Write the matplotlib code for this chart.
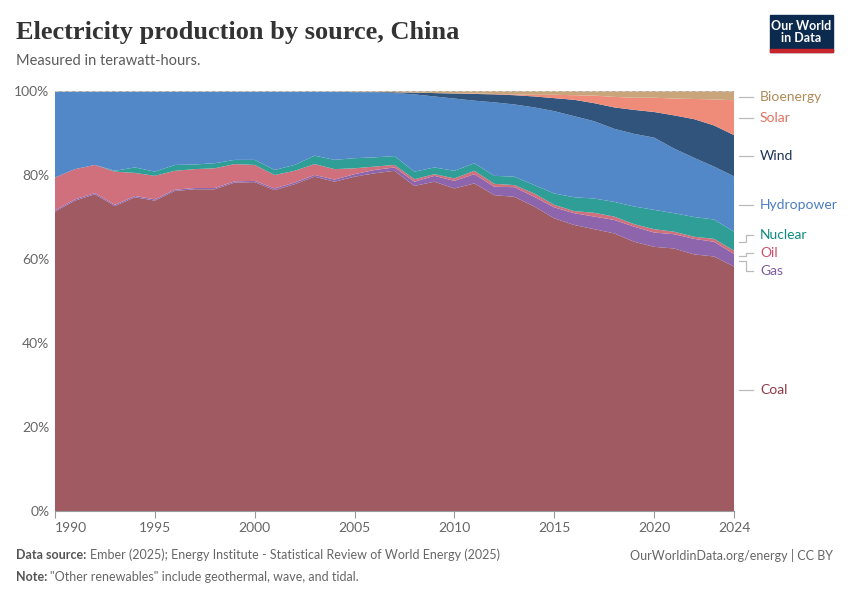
import matplotlib
matplotlib.use("Agg")
import matplotlib.pyplot as plt
import numpy as np
from matplotlib.patches import Rectangle

# ======= DATA (share of electricity, %) ======= #

years = list(range(1990, 2025))

coal = [71.3, 73.9, 75.4, 72.6, 74.7, 73.9, 76.2, 76.6, 76.6, 78.2,
        78.3, 76.4, 77.8, 79.6, 78.4, 79.6, 80.4, 81.0, 77.4, 78.4,
        76.8, 78.0, 75.2, 74.8, 72.5, 69.7, 68.1, 67.1, 66.1, 64.1,
        62.9, 62.5, 61.1, 60.6, 58.2]
gas = [0.3, 0.3, 0.3, 0.3, 0.3, 0.3, 0.3, 0.3, 0.3, 0.3,
       0.3, 0.4, 0.4, 0.4, 0.5, 0.6, 0.8, 0.8, 1.0, 1.4,
       1.8, 2.2, 2.0, 2.3, 2.3, 2.6, 2.8, 3.0, 3.2, 3.6,
       3.4, 3.4, 3.7, 3.5, 3.0]
oil = [7.8, 7.2, 6.7, 7.9, 5.5, 5.6, 4.5, 4.5, 4.7, 4.1,
       3.8, 3.2, 2.8, 2.6, 2.5, 1.4, 0.8, 0.6, 0.6, 0.4,
       0.6, 0.8, 0.7, 0.5, 0.8, 0.6, 0.5, 0.9, 0.8, 0.6,
       0.8, 0.6, 0.5, 0.7, 0.8]
nuclear = [0.0, 0.0, 0.0, 0.2, 1.3, 1.0, 1.4, 1.1, 1.2, 1.0,
           1.2, 1.2, 1.4, 2.0, 2.2, 2.4, 2.2, 2.1, 1.8, 1.6,
           1.8, 1.8, 1.9, 2.0, 2.0, 2.7, 3.3, 3.4, 3.5, 4.2,
           4.6, 4.4, 4.7, 4.6, 4.5]
hydro = [20.5, 18.5, 17.5, 18.9, 18.1, 19.1, 17.5, 17.4, 17.1, 16.3,
         16.3, 18.7, 17.5, 15.3, 16.3, 15.7, 15.5, 15.0, 18.4, 16.9,
         17.2, 14.9, 17.5, 17.2, 18.5, 19.6, 19.3, 18.4, 17.4, 17.3,
         17.2, 15.4, 14.1, 12.6, 13.2]
wind = [0.0, 0.0, 0.0, 0.0, 0.0, 0.0, 0.0, 0.0, 0.0, 0.0,
        0.0, 0.0, 0.0, 0.0, 0.0, 0.1, 0.1, 0.2, 0.4, 0.8,
        1.2, 1.6, 1.9, 2.2, 2.6, 3.1, 3.9, 4.3, 5.1, 5.7,
        6.1, 7.9, 9.2, 9.8, 9.8]
solar = [0.0, 0.0, 0.0, 0.0, 0.0, 0.0, 0.0, 0.0, 0.0, 0.0,
         0.0, 0.0, 0.0, 0.0, 0.0, 0.0, 0.0, 0.0, 0.0, 0.0,
         0.0, 0.1, 0.1, 0.2, 0.4, 0.8, 1.1, 1.8, 2.5, 2.9,
         3.4, 4.0, 4.8, 6.2, 8.3]
bio = [0.1, 0.1, 0.1, 0.1, 0.1, 0.1, 0.1, 0.1, 0.1, 0.1,
       0.1, 0.1, 0.1, 0.1, 0.1, 0.2, 0.2, 0.3, 0.4, 0.5,
       0.6, 0.6, 0.7, 0.8, 0.9, 0.9, 1.0, 1.1, 1.4, 1.6,
       1.6, 1.8, 1.9, 2.0, 2.2]

names = ["Coal", "Gas", "Oil", "Nuclear", "Hydropower", "Wind", "Solar", "Bioenergy"]
series = [coal, gas, oil, nuclear, hydro, wind, solar, bio]
fills = ["#A05A62", "#8C65AD", "#D0707D", "#2E9E96", "#5288C8", "#31547C", "#EE8C79", "#C8A57B"]
label_colors = ["#8E3A44", "#7F5AA0", "#CF4F68", "#0E8A80", "#4C7CC0", "#1A3558", "#E0705F", "#B08A5A"]

# ======= FIGURE ======= #

W, H = 850, 600
fig = plt.figure(figsize=(W / 100, H / 100), dpi=100)
plt.rcParams['font.family'] = ['Lato', 'DejaVu Sans']

def fx(px):
    return px / W

def fy(py):
    return 1 - py / H

ax = fig.add_axes([fx(55), fy(511), fx(734) - fx(55), fy(91) - fy(511)])

ax.stackplot(years, *series, colors=fills, linewidth=0)

ax.set_xlim(1990, 2024)
ax.set_ylim(0, 100)

ax.set_yticks([0, 20, 40, 60, 80, 100])
ax.set_yticklabels(["0%", "20%", "40%", "60%", "80%", "100%"])
ax.yaxis.grid(True, color="#dddddd", linestyle=(0, (4, 3)), linewidth=0.8)
ax.set_axisbelow(True)
ax.axhline(100, color="#cccccc", linestyle=(0, (3, 3)), linewidth=0.8, zorder=5)

xt = [1990, 1995, 2000, 2005, 2010, 2015, 2020, 2024]
ax.set_xticks(xt)
ax.set_xticklabels([str(v) for v in xt])
ax.get_xticklabels()[0].set_horizontalalignment("left")

ax.tick_params(axis="y", length=0, pad=4, labelsize=10, labelcolor="#666666")
ax.tick_params(axis="x", length=5, width=0.8, color="#999999", pad=3,
               labelsize=10, labelcolor="#666666")
for s in ["top", "right", "left"]:
    ax.spines[s].set_visible(False)
ax.spines["bottom"].set_color("#999999")
ax.spines["bottom"].set_linewidth(0.8)

# ======= RIGHT LABELS ======= #

label_y = {"Bioenergy": 97, "Solar": 118, "Wind": 156, "Hydropower": 205,
           "Nuclear": 235, "Oil": 253, "Gas": 271, "Coal": 390}
line_start = {"Nuclear": 242, "Oil": 256, "Gas": 261}
lc = "#bbbbbb"
for name, col in zip(names, label_colors):
    y = label_y[name]
    if name in line_start:
        y0 = line_start[name]
        fig.add_artist(plt.Line2D([fx(739), fx(746), fx(746), fx(753)],
                                  [fy(y0), fy(y0), fy(y), fy(y)],
                                  color=lc, linewidth=0.9))
    else:
        fig.add_artist(plt.Line2D([fx(739), fx(753)], [fy(y), fy(y)],
                                  color=lc, linewidth=0.9))
    fig.text(fx(760), fy(y), name, color=col, fontsize=10, va="center", ha="left")

# ======= TITLES / FOOTER ======= #

fig.text(fx(16), fy(32), "Electricity production by source, China",
         family=["Liberation Serif", "DejaVu Serif"], fontsize=19, weight="bold",
         color="#333333", va="center", ha="left")
fig.text(fx(16), fy(61), "Measured in terawatt-hours.", fontsize=10.5,
         color="#5b5b5b", va="center", ha="left")

# logo
fig.add_artist(Rectangle((fx(770), fy(52)), fx(833) - fx(770), fy(15) - fy(52),
                         transform=fig.transFigure, color="#0C2A4E", zorder=3))
fig.add_artist(Rectangle((fx(770), fy(52)), fx(833) - fx(770), fy(49) - fy(52),
                         transform=fig.transFigure, color="#C8242B", zorder=4))
fig.text(fx(801.5), fy(32), "Our World\nin Data", color="white", fontsize=9,
         weight="bold", ha="center", va="center", linespacing=1.0, zorder=5)

fig.text(fx(16), fy(555), "Data source:", fontsize=9, color="#555555",
         weight="bold", va="center", ha="left")
fig.text(fx(90), fy(555), "Ember (2025); Energy Institute - Statistical Review of World Energy (2025)",
         fontsize=9, color="#666666", va="center", ha="left")
fig.text(fx(833), fy(555), "OurWorldinData.org/energy | CC BY", fontsize=9,
         color="#666666", va="center", ha="right")
fig.text(fx(16), fy(577), "Note:", fontsize=9, color="#555555", weight="bold",
         va="center", ha="left")
fig.text(fx(50), fy(577), "\"Other renewables\" include geothermal, wave, and tidal.",
         fontsize=9, color="#666666", va="center", ha="left")

fig.savefig("out.png", dpi=100)
